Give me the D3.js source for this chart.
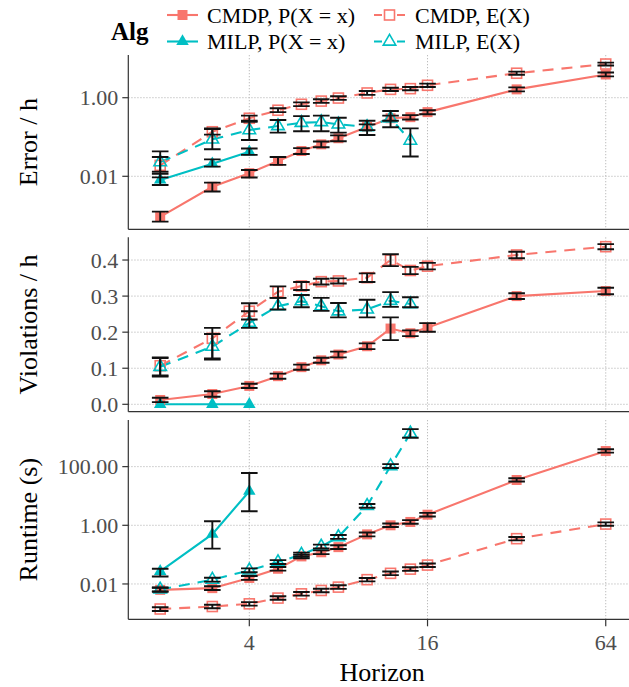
<!DOCTYPE html>
<html><head><meta charset="utf-8">
<script src="https://cdn.jsdelivr.net/npm/d3@7"></script>
<style>html,body{margin:0;padding:0;background:#fff;}svg{display:block;} svg text{font-family:"Liberation Serif","Times New Roman",Times,"DejaVu Serif","Noto Serif",serif;}</style>
</head><body>
<script>
// ---------- DATA ----------
const horizons = [2,3,4,5,6,7,8,10,12,14,16,32,64];
const horizonsMilpP = [2,3,4];
const horizonsMilpE = [2,3,4,5,6,7,8,10,12,14];
const xTicks = [4,16,64];
const seriesNames = ["CMDP, P(X = x)","CMDP, E(X)","MILP, P(X = x)","MILP, E(X)"];

// Error / h
const errCmdpP   = [0.00093,0.0054,0.012,0.0245,0.044,0.065,0.093,0.18,0.30,0.32,0.43,1.63,3.9];
const errCmdpPLo = [0.0007,0.0041,0.0093,0.0195,0.037,0.055,0.078,0.15,0.26,0.28,0.38,1.45,3.5];
const errCmdpPHi = [0.00126,0.0069,0.0145,0.031,0.052,0.077,0.11,0.21,0.35,0.36,0.48,1.83,4.4];
const errCmdpE   = [0.019,0.136,0.30,0.48,0.68,0.82,0.98,1.32,1.63,1.7,2.07,4.2,7.2];
const errCmdpELo = [0.013,0.115,0.26,0.43,0.61,0.74,0.88,1.18,1.48,1.55,1.88,3.85,6.6];
const errCmdpEHi = [0.031,0.16,0.35,0.54,0.76,0.91,1.09,1.48,1.8,1.87,2.28,4.6,7.8];
const errMilpP   = [0.0081,0.021,0.042];
const errMilpPLo = [0.006,0.0176,0.035];
const errMilpPHi = [0.0115,0.027,0.051];
const errMilpE   = [0.023,0.087,0.15,0.19,0.23,0.24,0.21,0.18,0.30,0.081];
const errMilpELo = [0.0094,0.049,0.084,0.129,0.14,0.14,0.129,0.112,0.177,0.032];
const errMilpEHi = [0.043,0.166,0.245,0.27,0.34,0.35,0.31,0.26,0.46,0.166];

// Violations / h
const vioCmdpP   = [0.012,0.0285,0.051,0.078,0.103,0.122,0.138,0.161,0.21,0.197,0.213,0.30,0.314];
const vioCmdpPLo = [0.006,0.021,0.045,0.071,0.096,0.115,0.130,0.153,0.178,0.189,0.201,0.292,0.305];
const vioCmdpPHi = [0.018,0.036,0.057,0.085,0.110,0.129,0.146,0.169,0.241,0.205,0.225,0.308,0.323];
const vioCmdpE   = [0.107,0.183,0.258,0.312,0.328,0.34,0.342,0.351,0.40,0.371,0.383,0.414,0.437];
const vioCmdpELo = [0.077,0.127,0.235,0.295,0.317,0.332,0.335,0.339,0.383,0.361,0.374,0.405,0.430];
const vioCmdpEHi = [0.130,0.212,0.280,0.327,0.339,0.348,0.349,0.363,0.416,0.381,0.392,0.423,0.444];
const vioMilpP   = [0,0,0];
const vioMilpPLo = [null,null,null];
const vioMilpPHi = [null,null,null];
const vioMilpE   = [0.104,0.16,0.226,0.272,0.286,0.272,0.258,0.263,0.287,0.278];
const vioMilpELo = [0.080,0.124,0.212,0.263,0.269,0.259,0.241,0.241,0.270,0.269];
const vioMilpEHi = [0.128,0.195,0.258,0.295,0.303,0.295,0.281,0.290,0.311,0.297];

// Runtime (s)
const runCmdpP   = [0.0063,0.0072,0.016,0.033,0.087,0.12,0.18,0.49,1.0,1.3,2.3,35,340];
const runCmdpPLo = [0.0054,0.0062,0.0138,0.0285,0.075,0.104,0.155,0.42,0.87,1.13,2.0,31,300];
const runCmdpPHi = [0.0074,0.0084,0.0186,0.038,0.10,0.14,0.21,0.57,1.15,1.5,2.65,40,390];
const runCmdpE   = [0.0014,0.0017,0.0021,0.0033,0.0046,0.006,0.0078,0.014,0.023,0.032,0.044,0.35,1.1];
const runCmdpELo = [0.0012,0.00148,0.00182,0.0029,0.004,0.0052,0.0068,0.0122,0.02,0.028,0.038,0.305,0.96];
const runCmdpEHi = [0.0016,0.00196,0.0024,0.0038,0.0053,0.0069,0.009,0.016,0.0265,0.037,0.05,0.4,1.26];
const runMilpP   = [0.027,0.50,14.5];
const runMilpPLo = [0.018,0.16,3.0];
const runMilpPHi = [0.033,1.37,61];
const runMilpE   = [0.0065,0.014,0.029,0.056,0.10,0.19,0.40,4.6,105,1360];
const runMilpELo = [0.0056,0.012,0.025,0.048,0.086,0.163,0.345,3.95,90,960];
const runMilpEHi = [0.0076,0.0163,0.034,0.065,0.117,0.22,0.465,5.35,122,1900];

const errTicks = [0.01, 1];
const vioTicks = [0, 0.1, 0.2, 0.3, 0.4];
const runTicks = [0.01, 1, 100];

// ---------- STYLE / LAYOUT ----------
const W = 629, H = 687;
const colCMDP = "#F8766D", colMILP = "#00BFC4";
const serif = "Liberation Serif, Times New Roman, Times, DejaVu Serif, Noto Serif, serif";
const left = 128.3, right = 638;

const svg = d3.select("body").append("svg").attr("width", W).attr("height", H)
  .attr("font-family", serif);

const x = d3.scaleLog().base(2).domain([Math.pow(2,0.642), Math.pow(2,6.362)]).range([left, right]);

function zip(xs, ys, lo, hi){ return xs.map((h,i)=>({x:h, y:ys[i], lo:lo[i], hi:hi[i]})); }

const styles = [
  {color: colCMDP, dashed:false, shape:"square", filled:true},
  {color: colCMDP, dashed:true,  shape:"square", filled:false},
  {color: colMILP, dashed:false, shape:"triangle", filled:true},
  {color: colMILP, dashed:true,  shape:"triangle", filled:false}
];

const panels = [
  {top:55, bottom:229.3, log:true, domain:[Math.pow(10,-3.349), Math.pow(10,1.087)], ticks:errTicks, fmt:d3.format(".2f"),
   title:"Error / h", showX:false,
   series:[zip(horizons,errCmdpP,errCmdpPLo,errCmdpPHi), zip(horizons,errCmdpE,errCmdpELo,errCmdpEHi),
           zip(horizonsMilpP,errMilpP,errMilpPLo,errMilpPHi), zip(horizonsMilpE,errMilpE,errMilpELo,errMilpEHi)]},
  {top:237.3, bottom:411.7, log:false, domain:[-0.0205, 0.463], ticks:vioTicks, fmt:d3.format(".1f"),
   title:"Violations / h", showX:false,
   series:[zip(horizons,vioCmdpP,vioCmdpPLo,vioCmdpPHi), zip(horizons,vioCmdpE,vioCmdpELo,vioCmdpEHi),
           zip(horizonsMilpP,vioMilpP,vioMilpPLo,vioMilpPHi), zip(horizonsMilpE,vioMilpE,vioMilpELo,vioMilpEHi)]},
  {top:420, bottom:619.3, log:true, domain:[Math.pow(10,-3.205), Math.pow(10,3.59)], ticks:runTicks, fmt:d3.format(".2f"),
   title:"Runtime (s)", showX:true,
   series:[zip(horizons,runCmdpP,runCmdpPLo,runCmdpPHi), zip(horizons,runCmdpE,runCmdpELo,runCmdpEHi),
           zip(horizonsMilpP,runMilpP,runMilpPLo,runMilpPHi), zip(horizonsMilpE,runMilpE,runMilpELo,runMilpEHi)]}
];

function drawShape(sel, st, cx, cy){
  if (st.shape === "square"){
    const s = 10;
    sel.append("rect").attr("x", cx - s/2).attr("y", cy - s/2).attr("width", s).attr("height", s)
      .attr("fill", st.filled ? st.color : "none")
      .attr("stroke", st.color).attr("stroke-width", st.filled ? 0 : 1.6);
  } else {
    const s = 12.5, h = s*Math.sqrt(3)/2;
    const pts = [[cx, cy - h*2/3],[cx - s/2, cy + h/3],[cx + s/2, cy + h/3]];
    sel.append("path").attr("d", "M" + pts.map(p=>p.join(",")).join("L") + "Z")
      .attr("fill", st.filled ? st.color : "none")
      .attr("stroke", st.color).attr("stroke-width", st.filled ? 0 : 1.6)
      .attr("stroke-linejoin","miter");
  }
}

const clipId = (i)=>"clip"+i;
const defs = svg.append("defs");

panels.forEach((p, pi) => {
  const y = (p.log ? d3.scaleLog() : d3.scaleLinear()).domain(p.domain).range([p.bottom, p.top]);
  defs.append("clipPath").attr("id", clipId(pi)).append("rect")
    .attr("x", left).attr("y", p.top).attr("width", right-left).attr("height", p.bottom - p.top);
  const g = svg.append("g");

  // gridlines
  const grid = g.append("g").attr("stroke", "#bdbdbd").attr("stroke-width", 1).attr("stroke-dasharray", "1.3,1.7");
  p.ticks.forEach(t => grid.append("line").attr("x1", left).attr("x2", right).attr("y1", y(t)).attr("y2", y(t)));
  xTicks.forEach(t => grid.append("line").attr("x1", x(t)).attr("x2", x(t)).attr("y1", p.top).attr("y2", p.bottom));

  const plot = g.append("g").attr("clip-path", `url(#${clipId(pi)})`);
  const line = d3.line().x(d=>x(d.x)).y(d=>y(d.y));
  // lines
  p.series.forEach((s, si) => {
    const st = styles[si];
    plot.append("path").datum(s).attr("d", line).attr("fill","none")
      .attr("stroke", st.color).attr("stroke-width", 2.1)
      .attr("stroke-dasharray", st.dashed ? "11,8" : null);
  });
  // points
  p.series.forEach((s, si) => {
    const st = styles[si];
    s.forEach(d => drawShape(plot, st, x(d.x), y(d.y)));
  });
  // error bars
  p.series.forEach((s, si) => {
    s.filter(d => d.lo !== null && d.hi !== null).forEach(d => {
      const cx = x(d.x), hw = 8.3;
      const eb = plot.append("g").attr("stroke", "#111").attr("stroke-width", 1.9).attr("fill","none");
      eb.append("line").attr("x1", cx).attr("x2", cx).attr("y1", y(d.lo)).attr("y2", y(d.hi));
      eb.append("line").attr("x1", cx-hw).attr("x2", cx+hw).attr("y1", y(d.lo)).attr("y2", y(d.lo));
      eb.append("line").attr("x1", cx-hw).attr("x2", cx+hw).attr("y1", y(d.hi)).attr("y2", y(d.hi));
    });
  });

  // axes (left + bottom lines)
  const axCol = "#333";
  g.append("line").attr("x1", left).attr("x2", left).attr("y1", p.top).attr("y2", p.bottom)
    .attr("stroke", axCol).attr("stroke-width", 1.2);
  g.append("line").attr("x1", left).attr("x2", right).attr("y1", p.bottom).attr("y2", p.bottom)
    .attr("stroke", axCol).attr("stroke-width", 1.2);
  // y ticks
  p.ticks.forEach(t => {
    g.append("line").attr("x1", left-6).attr("x2", left).attr("y1", y(t)).attr("y2", y(t))
      .attr("stroke", axCol).attr("stroke-width", 1.2);
    g.append("text").attr("x", left-10).attr("y", y(t)).attr("dy", "0.35em").attr("text-anchor","end")
      .attr("font-family", serif)
      .attr("fill", "#4d4d4d").attr("font-size", 22).text(p.fmt(t));
  });
  // y title
  g.append("text").attr("transform", `translate(${37},${(p.top+p.bottom)/2}) rotate(-90)`)
    .attr("font-family", serif)
    .attr("text-anchor","middle").attr("fill","#000").attr("font-size", 26).text(p.title);
  if (p.showX){
    xTicks.forEach(t => {
      g.append("line").attr("x1", x(t)).attr("x2", x(t)).attr("y1", p.bottom).attr("y2", p.bottom+7)
        .attr("stroke", axCol).attr("stroke-width", 1.2);
      g.append("text").attr("x", x(t)).attr("y", 650).attr("text-anchor","middle")
        .attr("font-family", serif)
        .attr("fill", "#4d4d4d").attr("font-size", 22).text(t);
    });
    g.append("text").attr("x", (left+right)/2 - 1).attr("y", 681).attr("text-anchor","middle")
      .attr("font-family", serif)
      .attr("fill","#000").attr("font-size", 26).text("Horizon");
  }
});

// ---------- LEGEND ----------
const lg = svg.append("g");
lg.append("text").attr("x", 111).attr("y", 40).attr("font-family", serif).attr("font-weight","bold").attr("font-size", 25).attr("fill","#000").text("Alg");
const legendPos = [
  {kx:167, ky:15, tx:207, ty:23},
  {kx:374, ky:15, tx:415, ty:23},
  {kx:167, ky:41.5, tx:207, ty:48.5},
  {kx:374, ky:41.5, tx:415, ty:48.5}
];
seriesNames.forEach((name, i) => {
  const st = styles[i], lp = legendPos[i];
  lg.append("line").attr("x1", lp.kx).attr("x2", lp.kx+31).attr("y1", lp.ky).attr("y2", lp.ky)
    .attr("stroke", st.color).attr("stroke-width", 2.1)
    .attr("stroke-dasharray", st.dashed ? "8,15" : null);
  drawShape(lg, st, lp.kx+15.5, lp.ky);
  lg.append("text").attr("x", lp.tx).attr("y", lp.ty).attr("font-family", serif).attr("font-size", 22).attr("fill","#000").text(name);
});
</script>
</body></html>
